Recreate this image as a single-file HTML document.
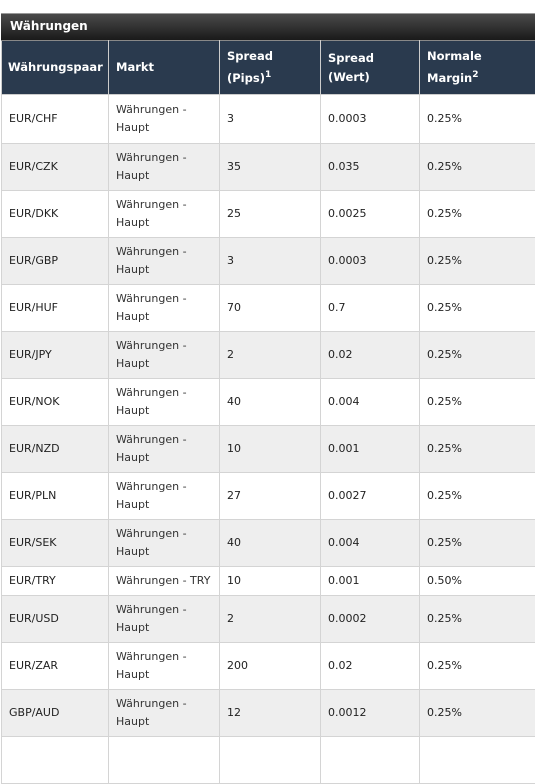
<!DOCTYPE html>
<html><head><meta charset="utf-8"><style>
body{margin:0;width:535px;height:739px;overflow:hidden;background:#fff;font-family:"DejaVu Sans",Verdana,sans-serif;}
.title{position:absolute;left:1px;top:13px;width:540px;height:27px;background:linear-gradient(#4a4a4a,#1a1a1a);border-top:1px solid #999;box-sizing:border-box;color:#fff;font-weight:bold;font-size:12px;line-height:25px;padding-left:9px;}
table{position:absolute;left:1px;top:40px;border-collapse:collapse;table-layout:fixed;width:540px;}
th,td{border:1px solid #d4d4d4;padding:0 0 0 7px;text-align:left;vertical-align:middle;overflow:hidden;white-space:nowrap;}
th{background:#2a3a4e;color:#fff;font-size:11.5px;line-height:19px;height:53px;border-color:#ccc;border-top:1px solid #888;}
th sup{font-size:9px;}
td{font-size:11px;line-height:18px;color:#222;height:46px;}
td.m{white-space:normal;color:#333;}
tr.alt td{background:#eeeeee;}
tr.one td{height:28px;}
</style></head><body>
<div class="title">Währungen</div>
<table>
<colgroup><col style="width:107px"><col style="width:111px"><col style="width:101px"><col style="width:99px"><col style="width:122px"></colgroup>
<thead><tr>
<th style="padding-left:6px">Währungspaar</th>
<th>Markt</th>
<th>Spread<br>(Pips)<sup>1</sup></th>
<th>Spread<br>(Wert)</th>
<th>Normale<br>Margin<sup>2</sup></th>
</tr></thead>
<tbody>
<tr style="height:49px"><td style="height:48px">EUR/CHF</td><td class="m">Währungen - Haupt</td><td>3</td><td>0.0003</td><td>0.25%</td></tr>
<tr class="alt"><td>EUR/CZK</td><td class="m">Währungen - Haupt</td><td>35</td><td>0.035</td><td>0.25%</td></tr>
<tr><td>EUR/DKK</td><td class="m">Währungen - Haupt</td><td>25</td><td>0.0025</td><td>0.25%</td></tr>
<tr class="alt"><td>EUR/GBP</td><td class="m">Währungen - Haupt</td><td>3</td><td>0.0003</td><td>0.25%</td></tr>
<tr><td>EUR/HUF</td><td class="m">Währungen - Haupt</td><td>70</td><td>0.7</td><td>0.25%</td></tr>
<tr class="alt"><td>EUR/JPY</td><td class="m">Währungen - Haupt</td><td>2</td><td>0.02</td><td>0.25%</td></tr>
<tr><td>EUR/NOK</td><td class="m">Währungen - Haupt</td><td>40</td><td>0.004</td><td>0.25%</td></tr>
<tr class="alt"><td>EUR/NZD</td><td class="m">Währungen - Haupt</td><td>10</td><td>0.001</td><td>0.25%</td></tr>
<tr><td>EUR/PLN</td><td class="m">Währungen - Haupt</td><td>27</td><td>0.0027</td><td>0.25%</td></tr>
<tr class="alt"><td>EUR/SEK</td><td class="m">Währungen - Haupt</td><td>40</td><td>0.004</td><td>0.25%</td></tr>
<tr class="one"><td>EUR/TRY</td><td class="m">Währungen - TRY</td><td>10</td><td>0.001</td><td>0.50%</td></tr>
<tr class="alt"><td>EUR/USD</td><td class="m">Währungen - Haupt</td><td>2</td><td>0.0002</td><td>0.25%</td></tr>
<tr><td>EUR/ZAR</td><td class="m">Währungen - Haupt</td><td>200</td><td>0.02</td><td>0.25%</td></tr>
<tr class="alt"><td>GBP/AUD</td><td class="m">Währungen - Haupt</td><td>12</td><td>0.0012</td><td>0.25%</td></tr>
<tr><td></td><td></td><td></td><td></td><td></td></tr>
</tbody></table>
</body></html>
